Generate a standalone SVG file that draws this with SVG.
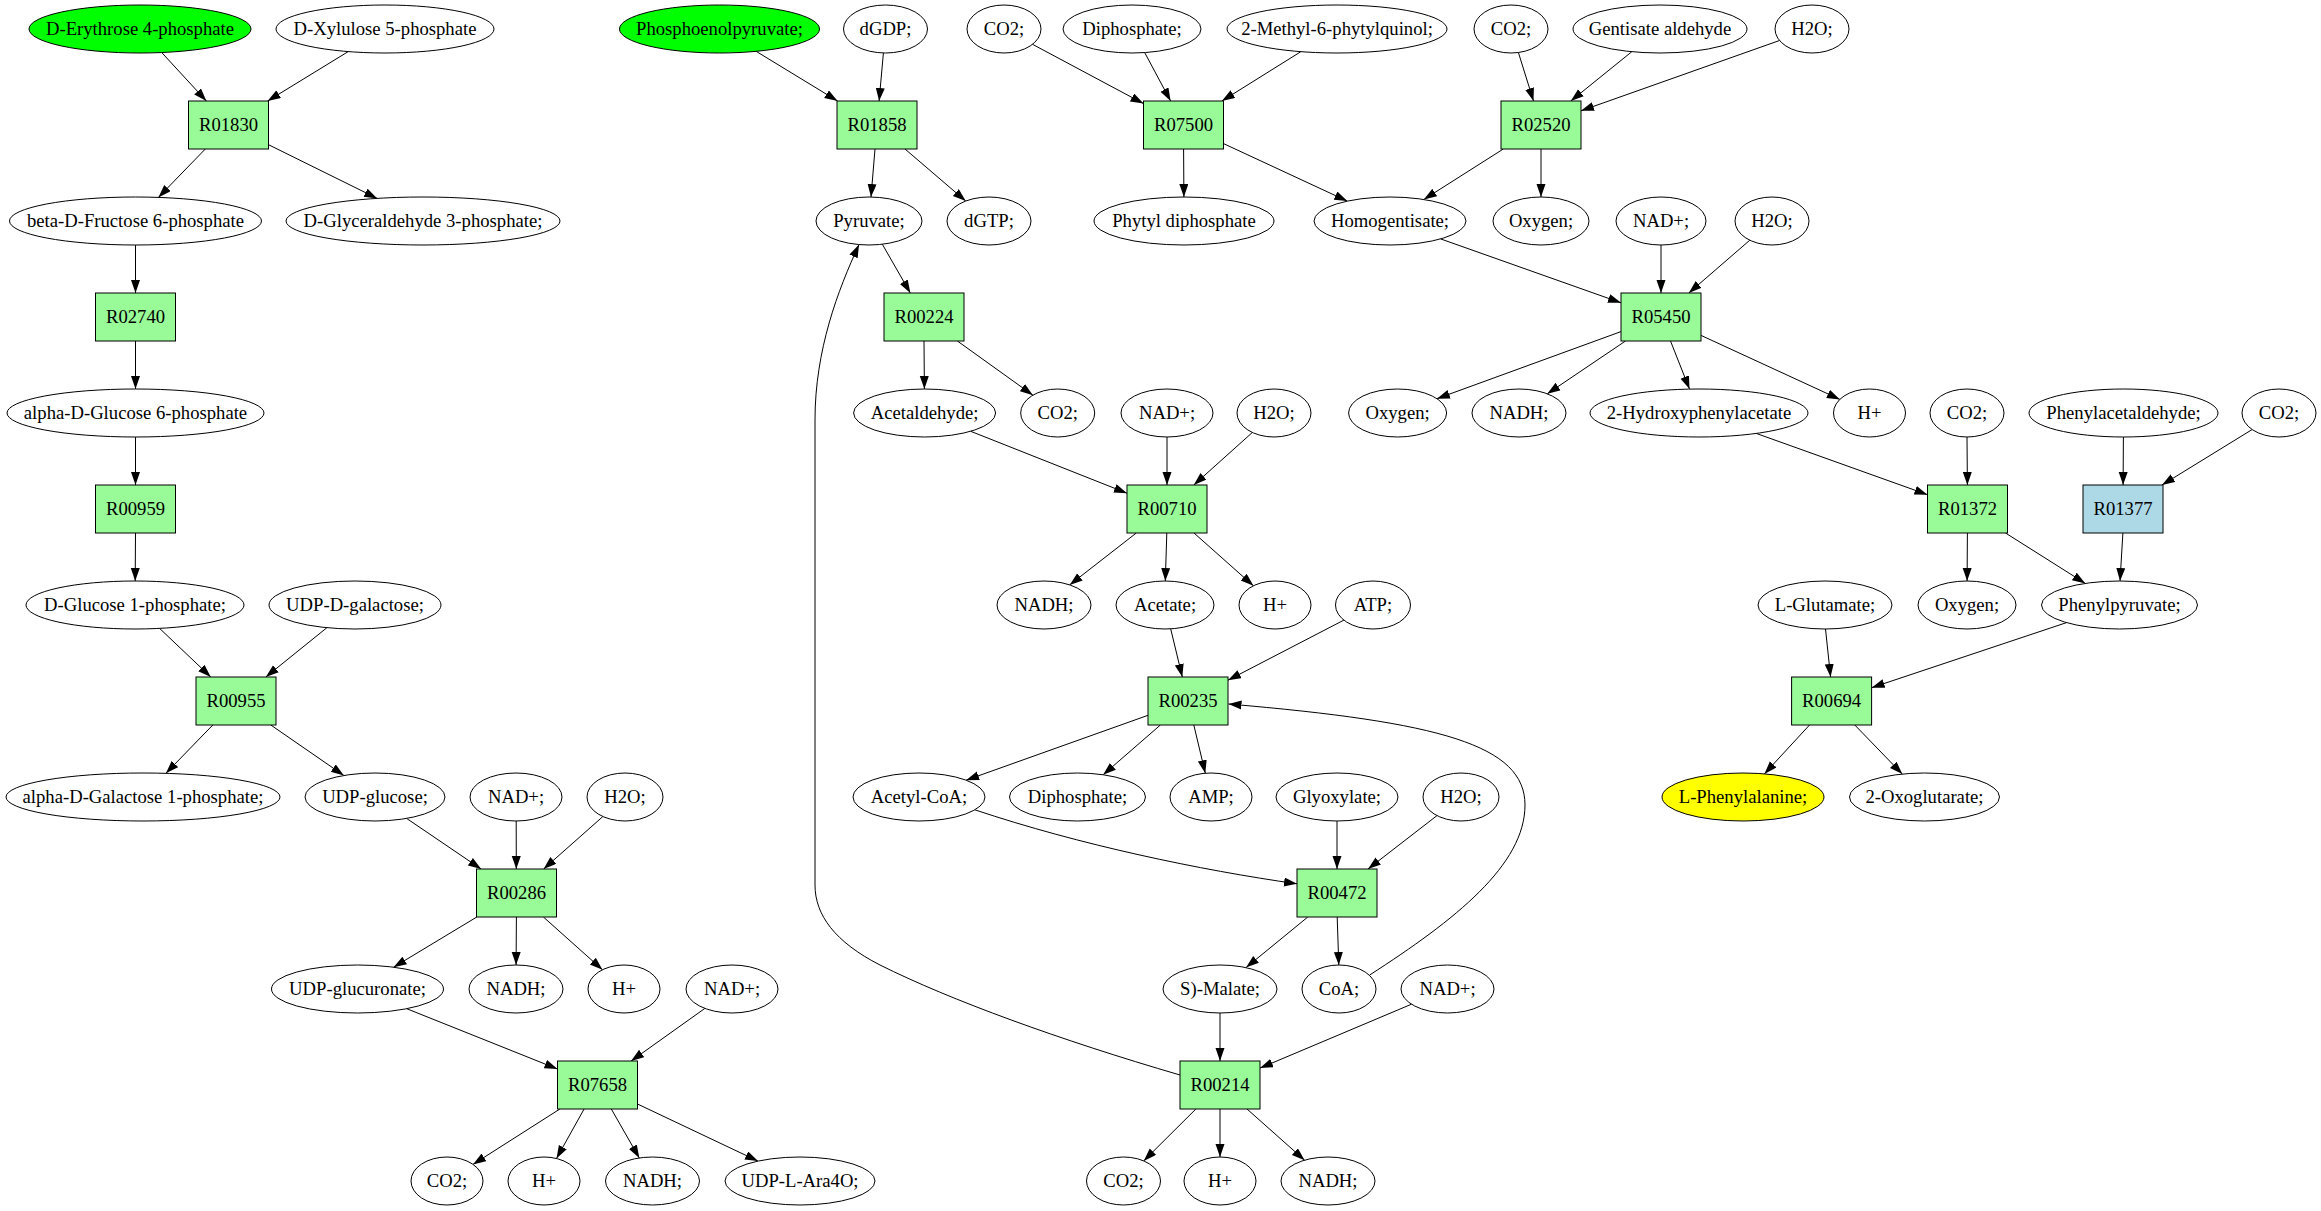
<svg xmlns="http://www.w3.org/2000/svg" width="2321" height="1211" viewBox="0 0 2321 1211">
<defs>
<marker id="a" markerUnits="userSpaceOnUse" markerWidth="14" markerHeight="10" refX="13" refY="4.5" orient="auto"><path d="M0,0 L13,4.5 L0,9 z" fill="#000"/></marker>
<style>
ellipse{fill:#fff;stroke:#000;stroke-width:1}
rect{fill:#98fb98;stroke:#000;stroke-width:1}
text{font-family:"Liberation Serif","Times New Roman",serif;font-size:18.67px;text-anchor:middle;fill:#000}
#edges path{stroke:#000;stroke-width:1;fill:none;marker-end:url(#a)}
.g ellipse{fill:#00ff00}
.y ellipse{fill:#ffff00}
.b rect{fill:#add8e6}
</style>
</defs>
<rect x="0" y="0" width="2321" height="1211" style="fill:#fff;stroke:none"/>
<g id="edges">
<path d="M161.7,52.5L206.4,101"/>
<path d="M348.2,51.6L267.6,101"/>
<path d="M205.3,149L158.4,197.4"/>
<path d="M268.5,144.7L377.2,198.4"/>
<path d="M135.5,245L135.5,293"/>
<path d="M135.5,341L135.5,389"/>
<path d="M135.5,437L135.5,485"/>
<path d="M135.5,533L135.2,581"/>
<path d="M159.6,628.4L210.8,677"/>
<path d="M326.9,627.7L265.8,677"/>
<path d="M212.8,725L165.9,773.3"/>
<path d="M270.8,725L343.9,775.5"/>
<path d="M406.6,818.4L481.1,869"/>
<path d="M516.2,821L516.3,869"/>
<path d="M602.9,816.5L543.6,869"/>
<path d="M476.8,917L393.6,967.2"/>
<path d="M516.4,917L516.1,965"/>
<path d="M543.4,917L602.5,969.8"/>
<path d="M406.7,1008.7L557.5,1069"/>
<path d="M704.9,1008.4L631.1,1061"/>
<path d="M559.9,1109L473,1164.4"/>
<path d="M584.1,1109L556.5,1158.5"/>
<path d="M611.3,1109L639.3,1158"/>
<path d="M637.5,1104L758,1161.1"/>
<path d="M756.1,51.3L837.6,101"/>
<path d="M883.4,53L879.1,101"/>
<path d="M875,149L871,197"/>
<path d="M905,149L965.7,201"/>
<path d="M882.3,244.2L910.3,293"/>
<path d="M924,341L924.4,389"/>
<path d="M957.4,341L1032.9,395.2"/>
<path d="M970.7,431.3L1127,493.2"/>
<path d="M1167,437L1167,485"/>
<path d="M1252.3,432.5L1193.8,485"/>
<path d="M1136.3,533L1069.7,584.9"/>
<path d="M1166.8,533L1165.3,581"/>
<path d="M1194,533L1253.4,585.8"/>
<path d="M1170.7,628.8L1182.3,677"/>
<path d="M1343.9,620.1L1228,680.2"/>
<path d="M1148,715.3L966.1,780.2"/>
<path d="M1160.4,725L1103.1,774.8"/>
<path d="M1193.8,725L1205.3,773.2"/>
<path d="M1369.7,975C1455,920 1525,865 1525,805C1525,745 1440,722 1228.5,704"/>
<path d="M974.8,809.8C1080,845 1200,870 1297,883.8"/>
<path d="M1337,821L1337,869"/>
<path d="M1437,815.6L1368,869"/>
<path d="M1307.8,917L1246,967.6"/>
<path d="M1337.2,917L1338.8,965"/>
<path d="M1220,1013L1220,1061"/>
<path d="M1411.5,1004.2L1260,1068.1"/>
<path d="M1195.9,1109L1143.7,1160.9"/>
<path d="M1220,1109L1220,1157"/>
<path d="M1247,1109L1304.6,1160.2"/>
<path d="M1180,1075C1060,1040 950,1000 880,965C835,942 815,915 815,885L815,420C815,350 838,290 859,244.6"/>
<path d="M1032.5,44.3L1143.5,103.6"/>
<path d="M1144.7,52.6L1170.6,101"/>
<path d="M1300.8,51.7L1221.9,101"/>
<path d="M1183.6,149L1183.9,197"/>
<path d="M1223.5,143.6L1347.3,201.1"/>
<path d="M1518.4,52.5L1533.5,101"/>
<path d="M1631.8,51.7L1570.8,101"/>
<path d="M1779.5,40.5L1581,110.8"/>
<path d="M1503.3,149L1423.8,199.5"/>
<path d="M1541,149L1541,197"/>
<path d="M1440.6,238.9L1621,302.8"/>
<path d="M1661,245L1661,293"/>
<path d="M1749.8,240.2L1688.8,293"/>
<path d="M1621,331.6L1436.9,398.7"/>
<path d="M1625.5,341L1547.3,393.8"/>
<path d="M1670.5,341L1689.5,389.1"/>
<path d="M1701,335.4L1839.9,399.4"/>
<path d="M1756.2,433.4L1927.5,494.7"/>
<path d="M1967,437L1967.4,485"/>
<path d="M1967.4,533L1967.1,581"/>
<path d="M2005.5,533L2085.3,583.4"/>
<path d="M2123.4,437L2123.1,485"/>
<path d="M2252.2,429.5L2162,485"/>
<path d="M2122.9,533L2120,581"/>
<path d="M1825.5,629L1830.6,677"/>
<path d="M2066.6,622.6L1871.6,687.7"/>
<path d="M1809.5,725L1764.4,773.9"/>
<path d="M1854.8,725L1902.3,774.1"/>
</g>
<g id="n_erythrose" class="g"><ellipse cx="140" cy="29" rx="111" ry="24"/><text x="140" y="35">D-Erythrose 4-phosphate</text></g>
<g id="n_xylulose"><ellipse cx="385" cy="29" rx="109" ry="24"/><text x="385" y="35">D-Xylulose 5-phosphate</text></g>
<g id="n_pep" class="g"><ellipse cx="719.5" cy="29" rx="100" ry="24"/><text x="719.5" y="35">Phosphoenolpyruvate;</text></g>
<g id="n_dgdp"><ellipse cx="885.5" cy="29" rx="42" ry="24"/><text x="885.5" y="35">dGDP;</text></g>
<g id="n_co2_1"><ellipse cx="1004" cy="29" rx="37" ry="24"/><text x="1004" y="35">CO2;</text></g>
<g id="n_diphos_1"><ellipse cx="1132" cy="29" rx="69" ry="24"/><text x="1132" y="35">Diphosphate;</text></g>
<g id="n_mpq"><ellipse cx="1337" cy="29" rx="110" ry="24"/><text x="1337" y="35">2-Methyl-6-phytylquinol;</text></g>
<g id="n_co2_2"><ellipse cx="1511" cy="29" rx="37" ry="24"/><text x="1511" y="35">CO2;</text></g>
<g id="n_gentisate"><ellipse cx="1660" cy="29" rx="87" ry="24"/><text x="1660" y="35">Gentisate aldehyde</text></g>
<g id="n_h2o_1"><ellipse cx="1812" cy="29" rx="37" ry="24"/><text x="1812" y="35">H2O;</text></g>
<g id="R01830"><rect x="188.5" y="101" width="80" height="48"/><text x="228.5" y="131">R01830</text></g>
<g id="R01858"><rect x="837" y="101" width="80" height="48"/><text x="877" y="131">R01858</text></g>
<g id="R07500"><rect x="1143.5" y="101" width="80" height="48"/><text x="1183.5" y="131">R07500</text></g>
<g id="R02520"><rect x="1501" y="101" width="80" height="48"/><text x="1541" y="131">R02520</text></g>
<g id="n_fructose"><ellipse cx="135.5" cy="221" rx="126" ry="24"/><text x="135.5" y="227">beta-D-Fructose 6-phosphate</text></g>
<g id="n_glyceraldehyde"><ellipse cx="423" cy="221" rx="137" ry="24"/><text x="423" y="227">D-Glyceraldehyde 3-phosphate;</text></g>
<g id="n_pyruvate"><ellipse cx="869" cy="221" rx="53" ry="24"/><text x="869" y="227">Pyruvate;</text></g>
<g id="n_dgtp"><ellipse cx="989" cy="221" rx="42" ry="24"/><text x="989" y="227">dGTP;</text></g>
<g id="n_phytyl"><ellipse cx="1184" cy="221" rx="90" ry="24"/><text x="1184" y="227">Phytyl diphosphate</text></g>
<g id="n_homogentisate"><ellipse cx="1390" cy="221" rx="76" ry="24"/><text x="1390" y="227">Homogentisate;</text></g>
<g id="n_oxygen_1"><ellipse cx="1541" cy="221" rx="48" ry="24"/><text x="1541" y="227">Oxygen;</text></g>
<g id="n_nad_1"><ellipse cx="1661" cy="221" rx="45" ry="24"/><text x="1661" y="227">NAD+;</text></g>
<g id="n_h2o_2"><ellipse cx="1772" cy="221" rx="37" ry="24"/><text x="1772" y="227">H2O;</text></g>
<g id="R02740"><rect x="95.5" y="293" width="80" height="48"/><text x="135.5" y="323">R02740</text></g>
<g id="R00224"><rect x="884" y="293" width="80" height="48"/><text x="924" y="323">R00224</text></g>
<g id="R05450"><rect x="1621" y="293" width="80" height="48"/><text x="1661" y="323">R05450</text></g>
<g id="n_glucose6p"><ellipse cx="135.5" cy="413" rx="128.5" ry="24"/><text x="135.5" y="419">alpha-D-Glucose 6-phosphate</text></g>
<g id="n_acetaldehyde"><ellipse cx="924.6" cy="413" rx="71" ry="24"/><text x="924.6" y="419">Acetaldehyde;</text></g>
<g id="n_co2_3"><ellipse cx="1057.7" cy="413" rx="37" ry="24"/><text x="1057.7" y="419">CO2;</text></g>
<g id="n_nad_2"><ellipse cx="1167" cy="413" rx="46" ry="24"/><text x="1167" y="419">NAD+;</text></g>
<g id="n_h2o_3"><ellipse cx="1274" cy="413" rx="37" ry="24"/><text x="1274" y="419">H2O;</text></g>
<g id="n_oxygen_2"><ellipse cx="1397.6" cy="413" rx="49" ry="24"/><text x="1397.6" y="419">Oxygen;</text></g>
<g id="n_nadh_1"><ellipse cx="1519" cy="413" rx="47" ry="24"/><text x="1519" y="419">NADH;</text></g>
<g id="n_hydroxyphenylacetate"><ellipse cx="1699" cy="413" rx="109" ry="24"/><text x="1699" y="419">2-Hydroxyphenylacetate</text></g>
<g id="n_h_1"><ellipse cx="1869.5" cy="413" rx="36" ry="24"/><text x="1869.5" y="419">H+</text></g>
<g id="n_co2_4"><ellipse cx="1967" cy="413" rx="37" ry="24"/><text x="1967" y="419">CO2;</text></g>
<g id="n_phenylacetaldehyde"><ellipse cx="2123.5" cy="413" rx="94.5" ry="24"/><text x="2123.5" y="419">Phenylacetaldehyde;</text></g>
<g id="n_co2_5"><ellipse cx="2279" cy="413" rx="37" ry="24"/><text x="2279" y="419">CO2;</text></g>
<g id="R00959"><rect x="95.5" y="485" width="80" height="48"/><text x="135.5" y="515">R00959</text></g>
<g id="R00710"><rect x="1127" y="485" width="80" height="48"/><text x="1167" y="515">R00710</text></g>
<g id="R01372"><rect x="1927.5" y="485" width="80" height="48"/><text x="1967.5" y="515">R01372</text></g>
<g id="R01377" class="b"><rect x="2083" y="485" width="80" height="48"/><text x="2123" y="515">R01377</text></g>
<g id="n_glucose1p"><ellipse cx="135" cy="605" rx="109" ry="24"/><text x="135" y="611">D-Glucose 1-phosphate;</text></g>
<g id="n_udpgalactose"><ellipse cx="355" cy="605" rx="86" ry="24"/><text x="355" y="611">UDP-D-galactose;</text></g>
<g id="n_nadh_2"><ellipse cx="1044" cy="605" rx="47" ry="24"/><text x="1044" y="611">NADH;</text></g>
<g id="n_acetate"><ellipse cx="1165" cy="605" rx="49" ry="24"/><text x="1165" y="611">Acetate;</text></g>
<g id="n_h_2"><ellipse cx="1275" cy="605" rx="36" ry="24"/><text x="1275" y="611">H+</text></g>
<g id="n_atp"><ellipse cx="1373" cy="605" rx="37.5" ry="24"/><text x="1373" y="611">ATP;</text></g>
<g id="n_glutamate"><ellipse cx="1825" cy="605" rx="67" ry="24"/><text x="1825" y="611">L-Glutamate;</text></g>
<g id="n_oxygen_3"><ellipse cx="1967" cy="605" rx="49" ry="24"/><text x="1967" y="611">Oxygen;</text></g>
<g id="n_phenylpyruvate"><ellipse cx="2119.5" cy="605" rx="78" ry="24"/><text x="2119.5" y="611">Phenylpyruvate;</text></g>
<g id="R00955"><rect x="196" y="677" width="80" height="48"/><text x="236" y="707">R00955</text></g>
<g id="R00235"><rect x="1148" y="677" width="80" height="48"/><text x="1188" y="707">R00235</text></g>
<g id="R00694"><rect x="1791.6" y="677" width="80" height="48"/><text x="1831.6" y="707">R00694</text></g>
<g id="n_galactose1p"><ellipse cx="143" cy="797" rx="137" ry="24"/><text x="143" y="803">alpha-D-Galactose 1-phosphate;</text></g>
<g id="n_udpglucose"><ellipse cx="375" cy="797" rx="70" ry="24"/><text x="375" y="803">UDP-glucose;</text></g>
<g id="n_nad_3"><ellipse cx="516" cy="797" rx="46" ry="24"/><text x="516" y="803">NAD+;</text></g>
<g id="n_h2o_4"><ellipse cx="625" cy="797" rx="38" ry="24"/><text x="625" y="803">H2O;</text></g>
<g id="n_acetylcoa"><ellipse cx="919" cy="797" rx="66" ry="24"/><text x="919" y="803">Acetyl-CoA;</text></g>
<g id="n_diphos_2"><ellipse cx="1077.5" cy="797" rx="68" ry="24"/><text x="1077.5" y="803">Diphosphate;</text></g>
<g id="n_amp"><ellipse cx="1211" cy="797" rx="41" ry="24"/><text x="1211" y="803">AMP;</text></g>
<g id="n_glyoxylate"><ellipse cx="1337" cy="797" rx="61" ry="24"/><text x="1337" y="803">Glyoxylate;</text></g>
<g id="n_h2o_5"><ellipse cx="1461" cy="797" rx="38" ry="24"/><text x="1461" y="803">H2O;</text></g>
<g id="n_phenylalanine" class="y"><ellipse cx="1743" cy="797" rx="81" ry="24"/><text x="1743" y="803">L-Phenylalanine;</text></g>
<g id="n_oxoglutarate"><ellipse cx="1924.5" cy="797" rx="75" ry="24"/><text x="1924.5" y="803">2-Oxoglutarate;</text></g>
<g id="R00286"><rect x="476.5" y="869" width="80" height="48"/><text x="516.5" y="899">R00286</text></g>
<g id="R00472"><rect x="1297" y="869" width="80" height="48"/><text x="1337" y="899">R00472</text></g>
<g id="n_udpglucuronate"><ellipse cx="357.5" cy="989" rx="86" ry="24"/><text x="357.5" y="995">UDP-glucuronate;</text></g>
<g id="n_nadh_3"><ellipse cx="516" cy="989" rx="47" ry="24"/><text x="516" y="995">NADH;</text></g>
<g id="n_h_3"><ellipse cx="624" cy="989" rx="36" ry="24"/><text x="624" y="995">H+</text></g>
<g id="n_nad_4"><ellipse cx="732" cy="989" rx="46" ry="24"/><text x="732" y="995">NAD+;</text></g>
<g id="n_malate"><ellipse cx="1220" cy="989" rx="57" ry="24"/><text x="1220" y="995">S)-Malate;</text></g>
<g id="n_coa"><ellipse cx="1339" cy="989" rx="37" ry="24"/><text x="1339" y="995">CoA;</text></g>
<g id="n_nad_5"><ellipse cx="1447.5" cy="989" rx="46.5" ry="24"/><text x="1447.5" y="995">NAD+;</text></g>
<g id="R07658"><rect x="557.5" y="1061" width="80" height="48"/><text x="597.5" y="1091">R07658</text></g>
<g id="R00214"><rect x="1180" y="1061" width="80" height="48"/><text x="1220" y="1091">R00214</text></g>
<g id="n_co2_6"><ellipse cx="447" cy="1181" rx="36" ry="24"/><text x="447" y="1187">CO2;</text></g>
<g id="n_h_4"><ellipse cx="544" cy="1181" rx="36" ry="24"/><text x="544" y="1187">H+</text></g>
<g id="n_nadh_4"><ellipse cx="652.5" cy="1181" rx="47" ry="24"/><text x="652.5" y="1187">NADH;</text></g>
<g id="n_udpara4o"><ellipse cx="800" cy="1181" rx="75" ry="24"/><text x="800" y="1187">UDP-L-Ara4O;</text></g>
<g id="n_co2_7"><ellipse cx="1123.5" cy="1181" rx="37" ry="24"/><text x="1123.5" y="1187">CO2;</text></g>
<g id="n_h_5"><ellipse cx="1220" cy="1181" rx="36" ry="24"/><text x="1220" y="1187">H+</text></g>
<g id="n_nadh_5"><ellipse cx="1328" cy="1181" rx="47" ry="24"/><text x="1328" y="1187">NADH;</text></g>
</svg>
